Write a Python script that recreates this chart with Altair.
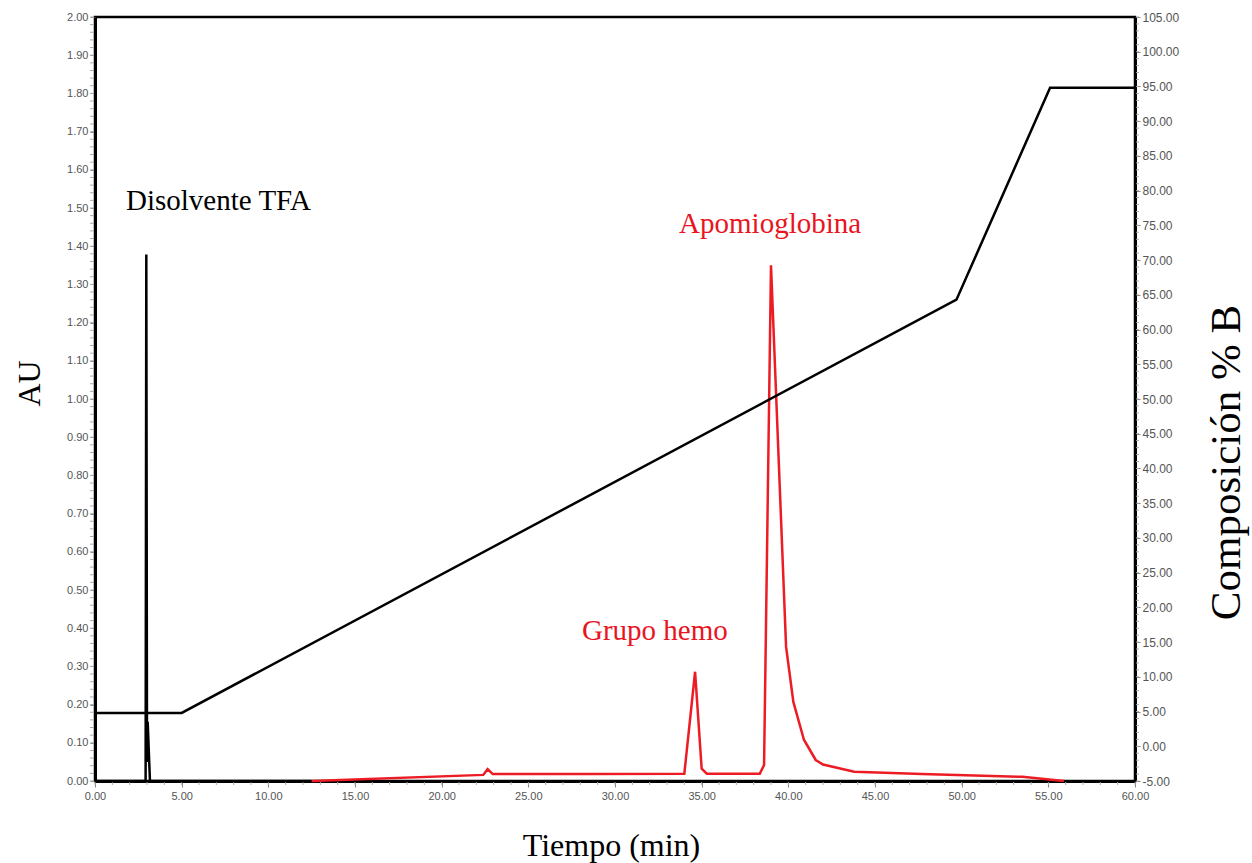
import altair as alt
import pandas as pd
import numpy as np

# ---- data ----
# black trace (TFA solvent peak), time in min, absorbance in AU
tfa_t = [0.0, 2.92, 2.96, 3.00, 3.04, 3.17, 12.5]
tfa_au = [0.0, 0.0, 1.378, 0.05, 0.155, 0.0, 0.0]

# red trace (heme group + apomyoglobin)
red_t = [12.5, 22.4, 22.65, 22.95, 28.4, 34.0, 34.62, 35.0, 35.3, 38.35, 38.6,
         39.0, 39.87, 40.29, 40.9, 41.58, 42.0, 43.8, 47.7, 53.5, 55.9]
red_au = [0.0, 0.016, 0.031, 0.018, 0.018, 0.019, 0.286, 0.032, 0.019, 0.019, 0.042,
          1.35, 0.351, 0.207, 0.108, 0.055, 0.043, 0.024, 0.018, 0.011, 0.0]

# gradient (% B)
grad_t = [0, 5, 49.7, 55.1, 60]
grad_b = [4.8, 4.8, 64.3, 94.8, 94.8]

# annotations
ann_text = ["Disolvente TFA", "Apomioglobina", "Grupo hemo"]
ann_t = [1.79, 38.95, 32.3]
ann_au = [1.519, 1.459, 0.392]
ann_color = ["black", "#e8151f", "#e8151f"]
ann_align = ["left", "center", "center"]

# ticks
x_major = [float(v) for v in range(0, 61, 5)]
x_minor = [float(v) for v in range(0, 61, 1)]
yl_major = [round(i * 0.1, 2) for i in range(21)]
yl_minor = [round(i * 0.02, 2) for i in range(101)]
yr_major = [float(v) for v in range(-5, 106, 5)]
yr_minor = [float(v) for v in range(-5, 106, 1)]

W, H = 1040, 764
RED = "#ed1c24"
LABEL_FONT = "Liberation Sans"
TITLE_FONT = "Liberation Serif"
FMT = "replace(format(datum.value, '.2f'), '\u2212', '-')"

x_scale = alt.Scale(domain=[0, 60], nice=False, zero=False)
yl_scale = alt.Scale(domain=[0, 2], nice=False, zero=False)
yr_scale = alt.Scale(domain=[-5, 105], nice=False, zero=False)

x_axis = alt.Axis(values=x_major, labelExpr=FMT, title="Tiempo (min)", grid=False,
                  labelFont=LABEL_FONT, labelFontSize=11, labelColor="#555",
                  labelFlush=False, labelOverlap=False, labelPadding=3,
                  tickColor="#888", tickSize=6, domainColor="black", domainWidth=3,
                  titleFont=TITLE_FONT, titleFontSize=32, titleFontWeight="normal",
                  titleColor="black", titleX=516, titleY=64, titleAlign="center",
                  titleBaseline="middle")

yl_axis = alt.Axis(values=yl_major, labelExpr=FMT, title="AU", grid=False, orient="left",
                   labelFont=LABEL_FONT, labelFontSize=11, labelColor="#555",
                   labelOverlap=False, labelPadding=2, labelFlush=False,
                   tickColor="#888", tickSize=5, domainColor="black", domainWidth=3,
                   titleFont=TITLE_FONT, titleFontSize=32, titleFontWeight="normal",
                   titleColor="black", titleAngle=-90, titleX=-66, titleY=366,
                   titleAlign="center", titleBaseline="middle")

yr_axis = alt.Axis(values=yr_major, labelExpr=FMT, title="Composición % B", grid=False,
                   orient="right",
                   labelFont=LABEL_FONT, labelFontSize=12, labelColor="#555",
                   labelOverlap=False, labelPadding=2, labelFlush=False,
                   tickColor="#888", tickSize=5, domainColor="black", domainWidth=3,
                   titleFont=TITLE_FONT, titleFontSize=43, titleFontWeight="normal",
                   titleColor="black", titleAngle=-90, titleX=91, titleY=445,
                   titleAlign="center", titleBaseline="middle")

X = lambda f: alt.X(f, scale=x_scale, axis=x_axis)
YL = lambda f: alt.Y(f, scale=yl_scale, axis=yl_axis)
YR = lambda f: alt.Y(f, scale=yr_scale, axis=yr_axis)

tfa_df = pd.DataFrame({"t": tfa_t, "au": tfa_au})
red_df = pd.DataFrame({"t": red_t, "au": red_au})
grad_df = pd.DataFrame({"t": grad_t, "b": grad_b})
ann_df = pd.DataFrame({"label": ann_text, "t": ann_t, "au": ann_au})

tfa_line = alt.Chart(tfa_df).mark_line(color="black", strokeWidth=2.5).encode(
    x=X("t:Q"), y=YL("au:Q"), order="t:Q")
red_line = alt.Chart(red_df).mark_line(color=RED, strokeWidth=2.5).encode(
    x=X("t:Q"), y=YL("au:Q"), order="t:Q")

ann_layers = []
for i in range(len(ann_text)):
    d = ann_df.iloc[[i]]
    ann_layers.append(
        alt.Chart(d).mark_text(font=TITLE_FONT, fontSize=29, color=ann_color[i],
                               align=ann_align[i], baseline="middle").encode(
            x=X("t:Q"), y=YL("au:Q"), text="label:N"))

left_minor = alt.Chart(pd.DataFrame({"v": yl_minor})).mark_rule(
    color="#aaa", strokeWidth=1).encode(
    y=YL("v:Q"), x=alt.value(-5), x2=alt.value(-1))

bottom_minor = alt.Chart(pd.DataFrame({"v": x_minor})).mark_rule(
    color="#aaa", strokeWidth=1).encode(
    x=X("v:Q"), y=alt.value(H + 1), y2=alt.value(H + 4))

left_layer = alt.layer(left_minor, bottom_minor, tfa_line, red_line, *ann_layers)

grad_line = alt.Chart(grad_df).mark_line(color="black", strokeWidth=2.5).encode(
    x=X("t:Q"), y=YR("b:Q"), order="t:Q")
right_minor = alt.Chart(pd.DataFrame({"v": yr_minor})).mark_rule(
    color="#aaa", strokeWidth=1).encode(
    y=YR("v:Q"), x=alt.value(W + 1), x2=alt.value(W + 4))

right_layer = alt.layer(right_minor, grad_line)

chart = alt.layer(left_layer, right_layer).resolve_scale(y="independent").properties(
    width=W, height=H,
    autosize=alt.AutoSizeParams(type="none"),
    padding={"left": 95, "top": 17, "right": 117, "bottom": 82},
    background="white",
).configure_view(stroke="black", strokeWidth=2.5)

chart.save("out.html", embed_options={"renderer": "svg", "actions": False})
